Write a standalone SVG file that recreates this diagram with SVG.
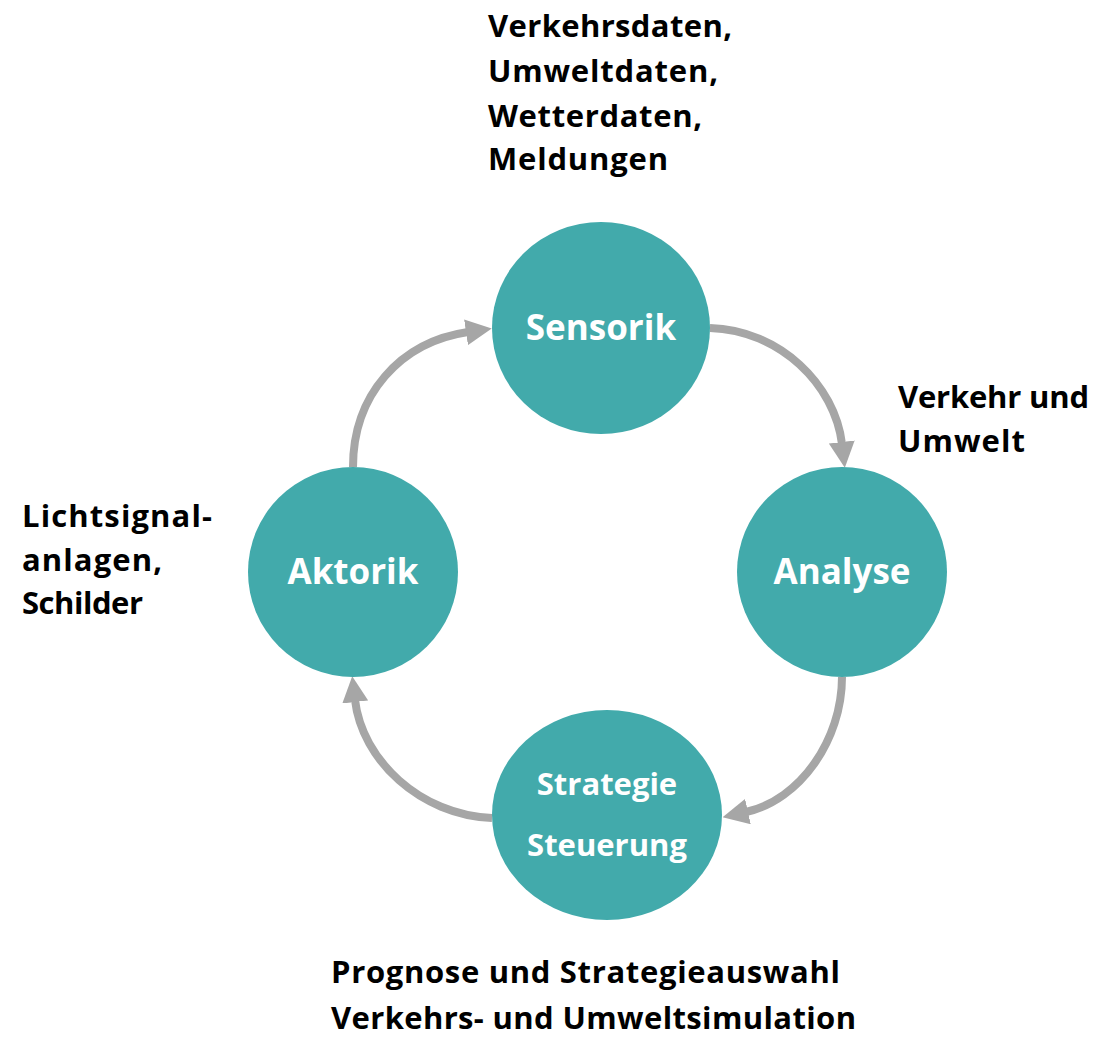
<svg xmlns="http://www.w3.org/2000/svg" width="1119" height="1038" viewBox="0 0 1119 1038">
  <style>
    .node { fill: #42AAAB; }
    .label { font-family: "Open Sans", "Noto Sans", sans-serif; font-weight: bold; fill: #ffffff; text-anchor: middle; }
    .note { font-family: "Open Sans", "Noto Sans", sans-serif; font-weight: bold; fill: #000000; font-size: 31px; }
    .conn { fill: none; stroke: #A6A6A6; stroke-width: 8; marker-end: url(#head); }
  </style>
  <defs>
    <marker id="head" markerUnits="userSpaceOnUse" markerWidth="26" markerHeight="26" refX="2" refY="13" orient="auto" viewBox="0 0 26 26">
      <path d="M0,0 L26,13 L0,26 Z" fill="#A6A6A6"/>
    </marker>
  </defs>
  <rect width="1119" height="1038" fill="#ffffff"/>

  <g id="connectors">
    <path class="conn" d="M353,467 C353,395 400,342 468,332"/>
    <path class="conn" d="M710,328 C780,330 835,385 842,444"/>
    <path class="conn" d="M842,677 C842,740 800,800 746,812"/>
    <path class="conn" d="M492,818 C420,815 362,760 355,700"/>
  </g>

  <g id="sensorik">
    <ellipse class="node" cx="601" cy="328" rx="109" ry="106"/>
    <text class="label" x="601" y="340" font-size="35">Sensorik</text>
  </g>
  <g id="analyse">
    <ellipse class="node" cx="842" cy="572" rx="105" ry="105"/>
    <text class="label" x="842" y="584" font-size="35">Analyse</text>
  </g>
  <g id="strategie">
    <ellipse class="node" cx="607" cy="815" rx="115" ry="105"/>
    <text class="label" x="607" y="795" font-size="31">Strategie</text>
    <text class="label" x="607" y="856" font-size="31">Steuerung</text>
  </g>
  <g id="aktorik">
    <ellipse class="node" cx="353" cy="572" rx="105" ry="105"/>
    <text class="label" x="353" y="584" font-size="35">Aktorik</text>
  </g>

  <g id="notes">
    <text class="note" x="488" y="37" textLength="244" lengthAdjust="spacing">Verkehrsdaten,</text>
    <text class="note" x="488" y="82" textLength="230" lengthAdjust="spacing">Umweltdaten,</text>
    <text class="note" x="488" y="127" textLength="214" lengthAdjust="spacing">Wetterdaten,</text>
    <text class="note" x="488" y="170" textLength="180" lengthAdjust="spacing">Meldungen</text>
    <text class="note" x="898" y="408" textLength="191" lengthAdjust="spacing">Verkehr und</text>
    <text class="note" x="898" y="452" textLength="127" lengthAdjust="spacing">Umwelt</text>
    <text class="note" x="22" y="527" textLength="190" lengthAdjust="spacing">Lichtsignal-</text>
    <text class="note" x="22" y="571" textLength="140" lengthAdjust="spacing">anlagen,</text>
    <text class="note" x="22" y="614" textLength="121" lengthAdjust="spacing">Schilder</text>
    <text class="note" x="331" y="983" textLength="509" lengthAdjust="spacing">Prognose und Strategieauswahl</text>
    <text class="note" x="331" y="1029" textLength="525" lengthAdjust="spacing">Verkehrs- und Umweltsimulation</text>
  </g>
</svg>
